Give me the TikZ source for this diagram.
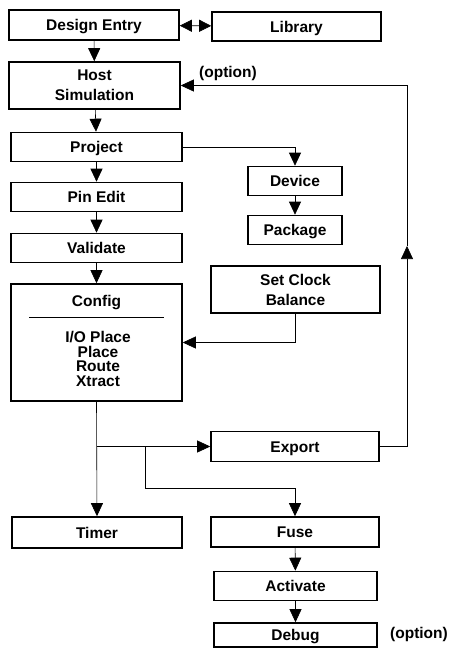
\documentclass[tikz,border=0pt]{standalone}
\usepackage{fontspec}
\setmainfont{Liberation Sans}
\usepackage{tikz}
\usetikzlibrary{arrows.meta,positioning}

\tikzset{
	box/.style={rectangle,draw,line width=1.6pt,align=center,inner sep=2pt,
		font=\bfseries\fontsize{15.5}{20}\selectfont,text height=11pt,text depth=0pt},
	tallbox/.style={rectangle,draw,line width=1.6pt,align=center,inner sep=2pt,
		font=\bfseries\fontsize{15.5}{20}\selectfont},
	conn/.style={line width=0.6pt,-{Triangle[length=13pt,width=12pt]}},
	plain/.style={line width=0.6pt},
	note/.style={font=\bfseries\fontsize{15.5}{17}\selectfont}
}

\begin{document}
\begin{tikzpicture}[x=1pt,y=-1pt]
	\useasboundingbox (0,0) rectangle (449,648);

	\begin{scope}
		\node[box,minimum width=170pt,minimum height=30pt] (entry) at (94,25) {Design Entry};
		\node[box,minimum width=169pt,minimum height=29pt] (library) at (296.5,26.5) {Library};
		\node[tallbox,minimum width=171pt,minimum height=47pt] (hostsim) at (94.5,85.5) {Host\\Simulation};
		\node[box,minimum width=171pt,minimum height=29pt] (project) at (96.5,147) {Project};
		\node[box,minimum width=171pt,minimum height=29pt] (pinedit) at (96.5,197) {Pin Edit};
		\node[box,minimum width=171pt,minimum height=29pt] (validate) at (96.5,248) {Validate};
		\node[box,minimum width=171pt,minimum height=117pt] (config) at (96.5,342.5) {};
		\node[box,minimum width=94pt,minimum height=29pt] (device) at (295,181) {Device};
		\node[box,minimum width=94pt,minimum height=29pt] (package) at (295,230) {Package};
		\node[tallbox,minimum width=169pt,minimum height=47pt] (setclock) at (295.5,289.5) {Set Clock\\Balance};
		\node[box,minimum width=168pt,minimum height=30pt] (export) at (295,446.5) {Export};
		\node[box,minimum width=170pt,minimum height=31pt] (timer) at (97,532.5) {Timer};
		\node[box,minimum width=168pt,minimum height=30pt] (fuse) at (295,532) {Fuse};
		\node[box,minimum width=163pt,minimum height=29pt] (activate) at (295.5,586) {Activate};
		\node[box,minimum width=163pt,minimum height=24pt] (debug) at (295.5,635) {Debug};

		% contents of the config box
		\node[note] (configtitle) at (96.5,303) {Config};
		\node[note,align=center,font=\bfseries\fontsize{15.5}{14.5}\selectfont] (configlist) at (98,359)
			{I/O Place\\Place\\Route\\Xtract};
		\draw[plain] (29,317) -- (164,317);

		\node[note] (opt1) at (228,73) {(option)};
		\node[note] (opt2) at (419,634) {(option)};
	\end{scope}

	\begin{scope}
		\draw[line width=0.6pt,{Triangle[length=12pt,width=12pt]}-{Triangle[length=12pt,width=12pt]}] (entry) -- (library);
		\draw[conn] (entry) -- (hostsim);
		\draw[conn] (hostsim) -- (project);
		\draw[conn] (project) -- (pinedit);
		\draw[conn] (pinedit) -- (validate);
		\draw[conn] (validate) -- (config);
		\draw[conn] (project.east) -| (device.north);
		\draw[conn] (device) -- (package);
		\draw[conn] (setclock.south) |- (config.east);

		% outputs of config
		\coordinate (br1) at (config.south |- export.west);
		\coordinate (br2) at (145,446.5);
		\draw[conn] (config.south) -- (timer.north);
		\draw[conn] (br1) -- (export.west);
		\draw[conn] (br2) -- ++(0,42) -| (fuse.north);
		\draw[conn] (fuse) -- (activate);
		\draw[conn] (activate) -- (debug);

		% optional loop back to host simulation
		\coordinate (loopmid) at (407,246);
		\draw[conn] (export.east) -| (loopmid);
		\draw[conn] (loopmid) |- (hostsim.east);
	\end{scope}
\end{tikzpicture}
\end{document}
